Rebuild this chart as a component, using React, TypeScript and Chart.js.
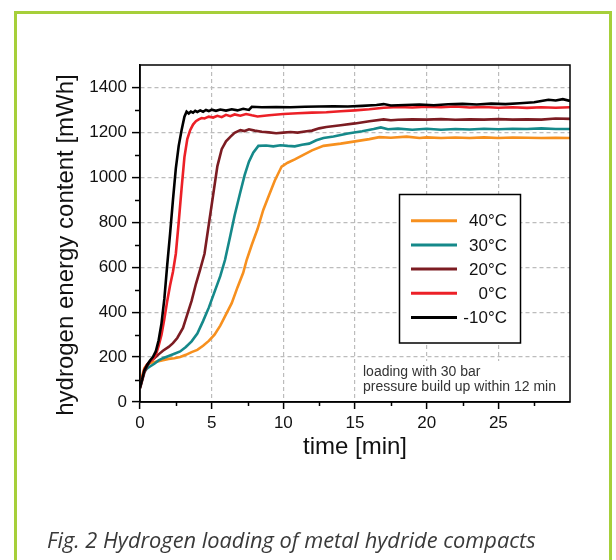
import React, { useEffect, useRef } from 'react';
import { Chart, registerables } from 'chart.js';

Chart.register(...registerables);

// ---------- data ----------
const seriesLabels = ['40°C', '30°C', '20°C', '0°C', '-10°C'];
const seriesColors = ['#f7901e', '#15898a', '#7c1c22', '#ec2027', '#000000'];

const tOrange = [0, 0.15, 0.3, 0.5, 0.7, 1.0, 1.3, 1.6, 2.0, 2.4, 2.8, 3.2, 3.6, 4.0, 4.4, 4.8, 5.2, 5.6, 6.0, 6.4, 6.8, 7.2, 7.44, 7.8, 8.2, 8.6, 9.0, 9.4, 9.88, 10.3, 10.8, 11.4, 12.0, 12.8, 14, 15, 16, 16.7, 17.5, 18.6, 19.5, 20, 21, 22, 23, 24, 25, 26, 27, 28, 29, 30];
const vOrange = [75, 115, 150, 168, 172, 178, 182, 186, 192, 195, 200, 210, 222, 232, 250, 272, 300, 340, 390, 440, 510, 575, 632, 700, 770, 855, 920, 985, 1048, 1065, 1080, 1100, 1120, 1140, 1150, 1160, 1170, 1179, 1176, 1181, 1175, 1178, 1175, 1177, 1175, 1178, 1175, 1177, 1176, 1175, 1176, 1175];

const tTeal = [0, 0.15, 0.3, 0.5, 0.7, 1.0, 1.3, 1.6, 2.0, 2.4, 2.8, 3.2, 3.6, 4.0, 4.4, 4.8, 5.2, 5.6, 5.93, 6.3, 6.6, 6.98, 7.3, 7.6, 7.9, 8.26, 8.8, 9.3, 9.8, 10.3, 10.8, 11.3, 11.8, 12.3, 12.8, 13.5, 14.5, 15.5, 16.3, 16.8, 17.3, 18, 19, 20, 21, 22, 23, 24, 25, 26, 27, 28, 29, 30];
const vTeal = [62, 100, 135, 150, 158, 170, 185, 195, 205, 215, 225, 245, 270, 305, 360, 420, 490, 560, 632, 740, 830, 929, 1010, 1070, 1110, 1140, 1142, 1138, 1143, 1140, 1138, 1145, 1150, 1165, 1175, 1182, 1195, 1205, 1215, 1222, 1214, 1217, 1212, 1216, 1212, 1215, 1213, 1216, 1214, 1216, 1215, 1218, 1215, 1215];

const tMaroon = [0, 0.15, 0.3, 0.5, 0.7, 1.0, 1.3, 1.6, 2.0, 2.3, 2.6, 3.0, 3.3, 3.6, 3.9, 4.2, 4.5, 4.8, 5.1, 5.4, 5.7, 6.0, 6.3, 6.6, 7.0, 7.3, 7.6, 8.0, 8.5, 9.0, 9.5, 10, 10.5, 11, 11.5, 12, 12.5, 13, 14, 15, 16, 17, 17.5, 18, 19, 20, 21, 22, 23, 24, 25, 26, 27, 28, 29, 30];
const vMaroon = [60, 95, 130, 160, 180, 195, 212, 228, 245, 262, 285, 330, 390, 450, 525, 590, 660, 790, 920, 1050, 1125, 1160, 1180, 1198, 1210, 1206, 1214, 1208, 1203, 1200, 1196, 1199, 1202, 1199, 1204, 1208, 1218, 1224, 1232, 1240, 1250, 1258, 1254, 1256, 1258, 1257, 1259, 1256, 1258, 1257, 1259, 1257, 1258, 1257, 1262, 1260];

const tRed = [0, 0.15, 0.3, 0.5, 0.7, 0.9, 1.1, 1.3, 1.5, 1.7, 1.9, 2.1, 2.3, 2.5, 2.7, 2.9, 3.1, 3.3, 3.5, 3.7, 3.9, 4.1, 4.3, 4.5, 4.8, 5.1, 5.4, 5.7, 6.0, 6.3, 6.6, 7.0, 7.4, 7.8, 8.2, 9, 10, 11, 12, 13, 14, 15, 16, 17, 18, 19, 20, 21, 22, 23, 24, 25, 26, 27, 28, 29, 30];
const vRed = [70, 105, 145, 168, 180, 190, 210, 250, 300, 370, 450, 520, 580, 660, 800, 950, 1090, 1170, 1210, 1235, 1250, 1258, 1264, 1262, 1270, 1266, 1274, 1268, 1278, 1272, 1280, 1274, 1282, 1276, 1271, 1276, 1282, 1285, 1288, 1290, 1294, 1298, 1303, 1310, 1313, 1311, 1314, 1312, 1315, 1311, 1313, 1310, 1312, 1309, 1312, 1310, 1312];

const tBlack = [0, 0.15, 0.3, 0.5, 0.7, 0.9, 1.1, 1.3, 1.5, 1.7, 1.9, 2.1, 2.3, 2.5, 2.7, 2.9, 3.1, 3.25, 3.4, 3.55, 3.7, 3.85, 4.0, 4.2, 4.4, 4.6, 4.8, 5.0, 5.3, 5.6, 6.0, 6.4, 6.8, 7.2, 7.6, 7.8, 8.5, 9.5, 10.5, 11.5, 12.5, 13.5, 14.5, 15.5, 16.5, 17.0, 17.5, 18.5, 19.5, 20.5, 21.5, 22.5, 23.5, 24.5, 25.5, 26.5, 27.5, 28.0, 28.5, 29.0, 29.5, 30];
const vBlack = [65, 100, 140, 165, 185, 200, 225, 275, 350, 460, 610, 750, 900, 1040, 1140, 1210, 1270, 1292, 1284, 1293, 1288, 1296, 1291, 1298, 1292, 1300, 1295, 1301, 1296, 1302, 1297, 1303, 1298, 1305, 1300, 1314, 1312, 1313, 1312, 1314, 1315, 1316, 1315, 1318, 1322, 1326, 1320, 1322, 1324, 1321, 1325, 1327, 1324, 1328, 1326, 1330, 1334, 1340, 1345, 1342, 1348, 1340];

const seriesTimes = [tOrange, tTeal, tMaroon, tRed, tBlack];
const seriesValues = [vOrange, vTeal, vMaroon, vRed, vBlack];

const xMinorTicks = [2.5, 7.5, 12.5, 17.5, 22.5, 27.5];
const yMinorTicks = [100, 300, 500, 700, 900, 1100, 1300];

const xTitle = 'time [min]';
const yTitle = 'hydrogen energy content [mWh]';
const noteLines = ['loading with 30 bar', 'pressure build up within 12 min'];
const caption = 'Fig. 2 Hydrogen loading of metal hydride compacts';

const FONT = '"Liberation Sans", Arial, sans-serif';
const GREEN = '#a6cf3a';
const TRANSPARENT = 'rgba(0,0,0,0)';

const decorPlugin = {
  id: 'decor',
  afterDraw(chart: any) {
    const ctx = chart.ctx as CanvasRenderingContext2D;
    const { left, right, top, bottom } = chart.chartArea;
    const xs = chart.scales.x;
    const ys = chart.scales.y;
    ctx.save();

    // frame
    ctx.strokeStyle = '#000';
    ctx.lineWidth = 1.5;
    ctx.strokeRect(left, top, right - left, bottom - top);

    // minor ticks
    ctx.beginPath();
    for (const v of xMinorTicks) {
      const px = Math.round(xs.getPixelForValue(v)) + 0.5;
      ctx.moveTo(px, bottom);
      ctx.lineTo(px, bottom + 4);
    }
    for (const v of yMinorTicks) {
      const py = Math.round(ys.getPixelForValue(v)) + 0.5;
      ctx.moveTo(left, py);
      ctx.lineTo(left - 5, py);
    }
    ctx.stroke();

    // y title
    ctx.save();
    ctx.translate(66, 245);
    ctx.rotate(-Math.PI / 2);
    ctx.fillStyle = '#111';
    ctx.font = `24px ${FONT}`;
    ctx.textAlign = 'center';
    ctx.textBaseline = 'middle';
    ctx.fillText(yTitle, 0, 0);
    ctx.restore();

    // legend
    const lx = 399.5, ly = 194.5, lw = 121, lh = 148.5;
    ctx.fillStyle = '#fff';
    ctx.fillRect(lx, ly, lw, lh);
    ctx.strokeStyle = '#000';
    ctx.lineWidth = 1.5;
    ctx.strokeRect(lx, ly, lw, lh);
    ctx.font = `17px ${FONT}`;
    ctx.textAlign = 'right';
    ctx.textBaseline = 'middle';
    seriesLabels.forEach((lab, i) => {
      const y = 220.7 + i * 24.2;
      ctx.strokeStyle = seriesColors[i];
      ctx.lineWidth = 3;
      ctx.beginPath();
      ctx.moveTo(411, y);
      ctx.lineTo(457, y);
      ctx.stroke();
      ctx.fillStyle = '#111';
      ctx.fillText(lab, 507, y + 1);
    });

    // note
    ctx.fillStyle = '#fff';
    ctx.fillRect(359, 361, right - 359 - 1, bottom - 361 - 1);
    ctx.fillStyle = '#333';
    ctx.font = `14px ${FONT}`;
    ctx.textAlign = 'left';
    ctx.textBaseline = 'middle';
    ctx.fillText(noteLines[0], 363, 372);
    ctx.fillText(noteLines[1], 363, 387.5);

    // green frame
    ctx.strokeStyle = GREEN;
    ctx.lineWidth = 3;
    ctx.strokeRect(15.5, 12.5, 595, 600);

    // caption
    ctx.fillStyle = '#3a3a3a';
    ctx.font = `italic 21.8px "Open Sans", "Noto Sans", sans-serif`;
    ctx.textAlign = 'left';
    ctx.textBaseline = 'alphabetic';
    ctx.fillText(caption, 47, 548);

    ctx.restore();
  },
};

export default function App() {
  const ref = useRef<HTMLCanvasElement | null>(null);

  useEffect(() => {
    if (!ref.current) return;
    const datasets = seriesLabels
      .map((label, i) => ({
        label,
        data: seriesTimes[i].map((t, j) => ({ x: t, y: seriesValues[i][j] })),
        borderColor: seriesColors[i],
        backgroundColor: seriesColors[i],
        borderWidth: 2.6,
        pointRadius: 0,
        tension: 0,
        fill: false,
      }))
      .reverse(); // black first => drawn on top

    const chart = new Chart(ref.current, {
      type: 'line',
      data: { datasets },
      plugins: [decorPlugin],
      options: {
        animation: false,
        responsive: false,
        devicePixelRatio: 1,
        layout: { padding: { left: 0, top: 65, right: 46, bottom: 98 } },
        plugins: {
          legend: { display: false },
          tooltip: { enabled: false },
          title: { display: false },
        },
        scales: {
          x: {
            type: 'linear',
            min: 0,
            max: 30,
            afterFit: (s: any) => { s.height = 60; },
            ticks: {
              stepSize: 5,
              font: { family: FONT, size: 17 },
              color: '#111',
              padding: 4,
              maxRotation: 0,
              callback: (v: any) => (v === 30 ? '' : String(v)),
            },
            grid: {
              color: (c: any) => (c.tick && (c.tick.value === 0 || c.tick.value === 30) ? TRANSPARENT : '#bcbcbc'),
              lineWidth: 1.2,
              tickLength: 7,
              tickWidth: 1.5,
              tickColor: (c: any) => (c.tick && c.tick.value === 30 ? TRANSPARENT : '#000'),
            },
            border: { display: true, color: '#000', width: 1.5, dash: [4, 3] },
            title: {
              display: true,
              text: xTitle,
              color: '#111',
              font: { family: FONT, size: 24 },
              padding: { top: 0, bottom: 0 },
            },
          },
          y: {
            type: 'linear',
            min: 0,
            max: 1500,
            afterFit: (s: any) => { s.width = 140; },
            ticks: {
              stepSize: 200,
              includeBounds: false,
              font: { family: FONT, size: 17 },
              color: '#111',
              padding: 5,
              callback: (v: any) => String(v),
            },
            grid: {
              color: (c: any) => (c.tick && c.tick.value === 0 ? TRANSPARENT : '#bcbcbc'),
              lineWidth: 1.2,
              tickLength: 8,
              tickWidth: 1.5,
              tickColor: '#000',
            },
            border: { display: true, color: '#000', width: 1.5, dash: [4, 3] },
          },
        },
      } as any,
    });
    return () => chart.destroy();
  }, []);

  return (
    <div style={{ position: 'absolute', left: 0, top: 0, width: 616, height: 560, background: '#fff' }}>
      <canvas ref={ref} width={616} height={560} style={{ display: 'block', width: 616, height: 560 }} />
    </div>
  );
}
